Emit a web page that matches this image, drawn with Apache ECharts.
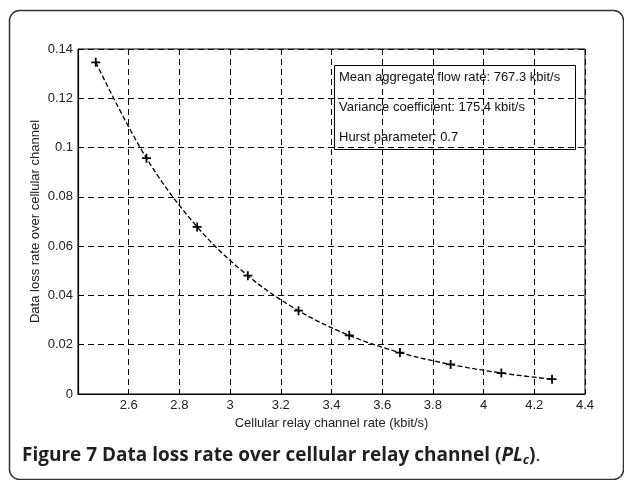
<!DOCTYPE html>
<html>
<head>
<meta charset="utf-8">
<script src="https://cdn.jsdelivr.net/npm/echarts@6/dist/echarts.min.js"></script>
<style>
  html, body { margin: 0; padding: 0; background: #fff; }
  #chart { width: 624px; height: 480px; }
</style>
</head>
<body>
<div id="chart"></div>
<script>
// channel rate (kbit/s) and data loss rate
const rates = [2.47, 2.67, 2.87, 3.07, 3.27, 3.47, 3.67, 3.87, 4.07, 4.27];
const lossRates = [0.1346, 0.0957, 0.0678, 0.048, 0.0338, 0.0238, 0.0168, 0.012, 0.0085, 0.006];
const infoLines = [
    'Mean aggregate flow rate: 767.3 kbit/s',
    'Variance coefficient: 175.4 kbit/s',
    'Hurst parameter: 0.7'
];

const points = rates.map((r, i) => [r, lossRates[i]]);
const plusPath = 'path://M4,0H6V4H10V6H6V10H4V6H0V4H4Z';
const tickFont = { fontFamily: 'Liberation Sans', fontSize: 13, color: '#222' };

const chart = echarts.init(document.getElementById('chart'));

const infoText = [];
for (let i = 0; i < infoLines.length; i++) {
    infoText.push({
        type: 'text',
        left: 339,
        top: 70.5 + i * 30.2,
        z: 20,
        style: { text: infoLines[i], fontFamily: 'Liberation Sans', fontSize: 13, fill: '#111' }
    });
}

const option = {
    animation: false,
    backgroundColor: '#fff',
    grid: {
        left: 78, top: 49, right: 39, bottom: 86,
        show: true, borderColor: '#000', borderWidth: 1
    },
    xAxis: {
        type: 'value',
        min: 2.4, max: 4.4, interval: 0.2,
        name: 'Cellular relay channel rate (kbit/s)',
        nameLocation: 'middle',
        nameGap: 22,
        nameTextStyle: { fontFamily: 'Liberation Sans', fontSize: 13, color: '#222' },
        axisLine: { lineStyle: { color: '#000', width: 1.2 } },
        axisTick: { show: true, inside: true, length: 4, lineStyle: { color: '#000' } },
        axisLabel: Object.assign({ showMinLabel: false, margin: 5 }, tickFont),
        splitLine: { show: true, lineStyle: { color: '#000', type: [6, 4], width: 1 } }
    },
    yAxis: {
        type: 'value',
        min: 0, max: 0.14, interval: 0.02,
        name: 'Data loss rate over cellular channel',
        nameLocation: 'middle',
        nameGap: 36,
        nameMoveOverlap: false,
        nameTextStyle: { fontFamily: 'Liberation Sans', fontSize: 13, color: '#222' },
        axisLine: { show: true, lineStyle: { color: '#000', width: 1.2 } },
        axisTick: { show: true, inside: true, length: 4, lineStyle: { color: '#000' } },
        axisLabel: Object.assign({ margin: 5 }, tickFont),
        splitLine: { show: true, lineStyle: { color: '#000', type: [6, 4], width: 1 } }
    },
    series: [{
        type: 'line',
        data: points,
        smooth: 0.35,
        symbol: plusPath,
        symbolSize: 9,
        showAllSymbol: true,
        itemStyle: { color: '#000' },
        lineStyle: { color: '#000', width: 1.3, type: [5, 2.5] },
        z: 5
    }],
    graphic: [
        {
            type: 'rect',
            left: 7, top: 8,
            shape: { width: 614, height: 469, r: 10 },
            style: { fill: 'none', stroke: '#333', lineWidth: 1.5 },
            z: 1
        },
        {
            type: 'rect',
            left: 332, top: 63,
            shape: { width: 241, height: 84 },
            style: { fill: 'none', stroke: '#000', lineWidth: 1 },
            z: 20
        }
    ].concat(infoText).concat([
        {
            type: 'text',
            left: 22, top: 446,
            style: {
                text: '{b|Figure 7 Data loss rate over cellular relay channel (}{i|PL}{s|c}{b|)}{n|.}',
                rich: {
                    b: { fontFamily: 'Open Sans', fontWeight: 'bold', fontSize: 19, fill: '#231f20' },
                    i: { fontFamily: 'Open Sans', fontStyle: 'italic', fontWeight: 'bold', fontSize: 19, fill: '#231f20' },
                    s: { fontFamily: 'Open Sans', fontStyle: 'italic', fontWeight: 'bold', fontSize: 13, fill: '#231f20', padding: [10, 0, 0, 0] },
                    n: { fontFamily: 'Open Sans', fontSize: 19, fill: '#231f20' }
                }
            }
        }
    ])
};

chart.setOption(option);
</script>
</body>
</html>
